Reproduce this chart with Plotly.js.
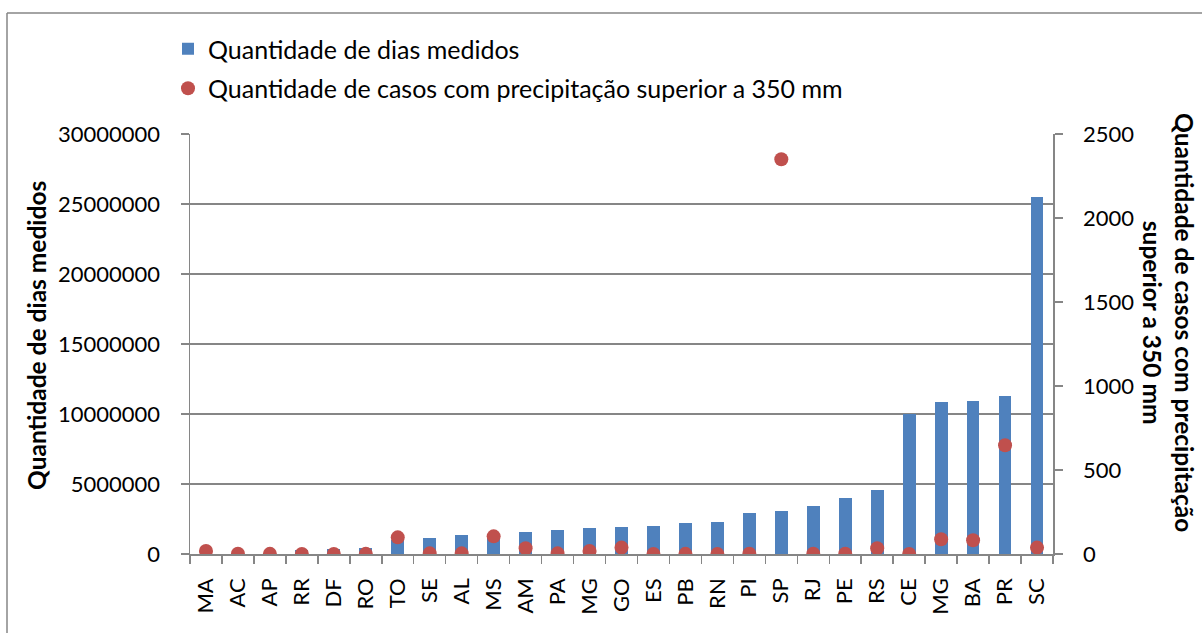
<!DOCTYPE html>
<html>
<head>
<meta charset="utf-8">
<script src="https://cdn.plot.ly/plotly-3.0.1.min.js"></script>
<style>
html,body{margin:0;padding:0;background:#fff;}
#chart{width:1202px;height:633px;}
</style>
</head>
<body>
<div id="chart"></div>
<script>
var estados = ['MA','AC','AP','RR','DF','RO','TO','SE','AL','MS','AM','PA','MG','GO','ES','PB','RN','PI','SP','RJ','PE','RS','CE','MG','BA','PR','SC'];
var diasMedidos = [150000,200000,250000,300000,350000,430000,1000000,1150000,1360000,1450000,1570000,1710000,1860000,1950000,2000000,2190000,2290000,2900000,3070000,3450000,4000000,4570000,10000000,10860000,10930000,11260000,25500000];
var casos350 = [18,2,1,0,0,1,99,4,4,105,34,4,18,38,0,1,0,2,2350,2,2,34,0,88,82,647,38];

var idx = estados.map(function(_, i){ return i; });
var bounds = [];
for (var i = 0; i <= estados.length; i++) bounds.push(i - 0.5);

var fontFam = 'Lato, "Open Sans", sans-serif';
var grey = '#868686';

var traces = [
  {
    type: 'bar', x: idx, y: diasMedidos, width: 0.4,
    name: 'Quantidade de dias medidos',
    marker: {color: '#4F81BD'},
    legendgroup: 'a', yaxis: 'y'
  },
  {
    type: 'scatter', mode: 'markers', x: idx, y: casos350,
    name: 'Quantidade de casos com precipitação superior a 350 mm',
    marker: {color: '#C0504D', size: 14},
    legendgroup: 'b', yaxis: 'y2'
  }
];

var plotL = 190, plotR = 1053, plotT = 134, plotB = 554;
var pw = plotR - plotL, ph = plotB - plotT;
function px(x){ return (x - plotL) / pw; }
function py(y){ return (plotB - y) / ph; }

var layout = {
  width: 1202, height: 633,
  margin: {l: plotL, r: 1202 - plotR, t: plotT, b: 633 - plotB},
  paper_bgcolor: '#fff', plot_bgcolor: '#fff',
  font: {family: fontFam, color: '#000', size: 22},
  showlegend: true,
  legend: {
    x: px(168), y: py(26), xanchor: 'left', yanchor: 'top',
    traceorder: 'grouped', tracegroupgap: 4,
    font: {family: fontFam, size: 25, color: '#000'},
    bgcolor: 'rgba(0,0,0,0)'
  },
  bargap: 0,
  xaxis: {
    range: [-0.5, estados.length - 0.5],
    tickmode: 'array', tickvals: idx, ticktext: estados,
    tickangle: -90, ticks: '', ticklabelstandoff: 14,
    tickfont: {family: fontFam, size: 22},
    showline: true, linecolor: grey, linewidth: 1.5,
    showgrid: false, zeroline: false,
    minor: {tickmode: 'array', tickvals: bounds, ticks: 'outside', ticklen: 8, tickcolor: grey, tickwidth: 1.5, showgrid: false}
  },
  yaxis: {
    range: [0, 30000000], dtick: 5000000, tickformat: 'd',
    ticks: 'outside', ticklen: 8, tickcolor: grey, tickwidth: 1.5,
    ticklabelstandoff: 16,
    tickfont: {family: fontFam, size: 22},
    showline: true, linecolor: grey, linewidth: 1.5,
    showgrid: true, gridcolor: grey, gridwidth: 1.5, zeroline: false
  },
  yaxis2: {
    overlaying: 'y', side: 'right',
    range: [0, 2500], dtick: 500, tickformat: 'd',
    ticks: 'outside', ticklen: 8, tickcolor: grey, tickwidth: 1.5,
    ticklabelstandoff: 16,
    tickfont: {family: fontFam, size: 22},
    showline: true, linecolor: grey, linewidth: 1.5,
    showgrid: false, zeroline: false
  },
  shapes: [
    {type: 'line', xref: 'paper', yref: 'paper',
     x0: px(7), x1: px(7), y0: py(640), y1: py(13),
     line: {color: grey, width: 1.5}, layer: 'below'},
    {type: 'line', xref: 'paper', yref: 'paper',
     x0: px(7), x1: px(1210), y0: py(13), y1: py(13),
     line: {color: grey, width: 1.5}, layer: 'below'}
  ],
  annotations: [
    {xref: 'paper', yref: 'paper', x: px(36), y: py(336), xanchor: 'center', yanchor: 'middle', showarrow: false,
     text: '<b>Quantidade de dias medidos</b>', textangle: -90,
     font: {family: fontFam, size: 24.5, color: '#000'}},
    {xref: 'paper', yref: 'paper', x: px(1169), y: py(322), xanchor: 'center', yanchor: 'middle', showarrow: false,
     text: '<b>Quantidade de casos com precipitação<br>superior a 350 mm</b>', textangle: 90,
     font: {family: fontFam, size: 24.5, color: '#000'}}
  ]
};

Plotly.newPlot('chart', traces, layout, {displayModeBar: false, staticPlot: true});
</script>
</body>
</html>
